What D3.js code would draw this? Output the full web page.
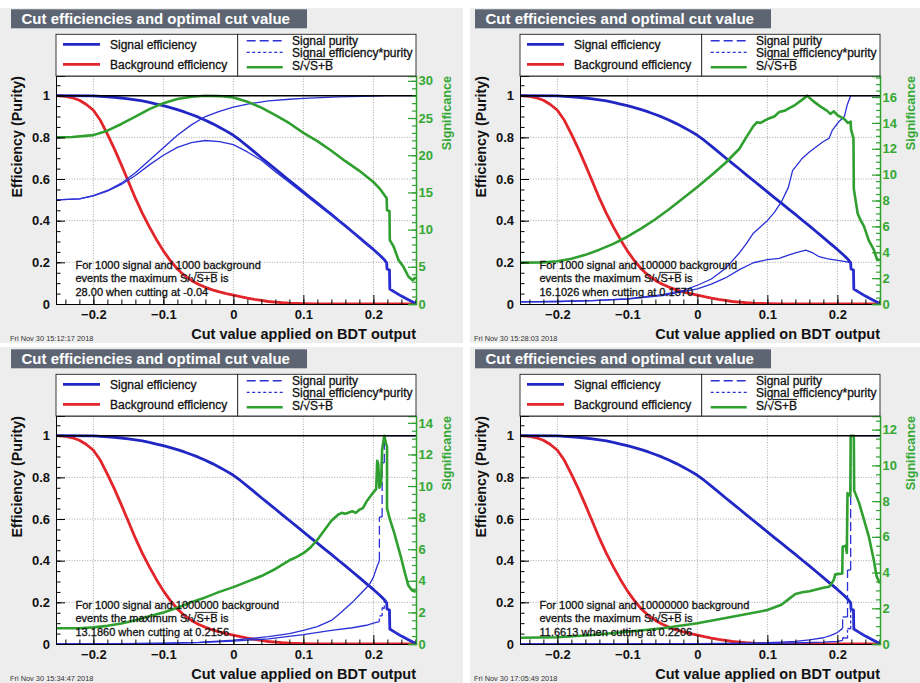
<!DOCTYPE html>
<html>
<head>
<meta charset="utf-8">
<script src="https://cdnjs.cloudflare.com/ajax/libs/d3/7.8.5/d3.min.js"></script>
<style>
  body { margin: 0; background: #ffffff; }
  svg { display: block; }
  text { font-family: "Liberation Sans", Arial, Helvetica, sans-serif; }
  .soft { stroke: #111111; stroke-width: 0.3px; paint-order: stroke; }
</style>
</head>
<body>
<svg id="chart" width="920" height="683"></svg>
<script>
// ---------------------------------------------------------------------------
// Cut efficiencies for a BDT classifier, four background sample sizes
// ---------------------------------------------------------------------------
const panelTitle = "Cut efficiencies and optimal cut value";
const xAxisTitle = "Cut value applied on BDT output";
const yAxisTitle = "Efficiency (Purity)";
const sigAxisTitle = "Significance";
const xTickValues = [-0.2, -0.1, 0, 0.1, 0.2];
const effTickValues = [0, 0.2, 0.4, 0.6, 0.8, 1];
const legendLeftLabels = ["Signal efficiency", "Background efficiency"];
const legendRightLabels = ["Signal purity", "Signal efficiency*purity"];

const signalCounts = [1000, 1000, 1000, 1000];
const backgroundCounts = [1000, 100000, 1000000, 10000000];
const maxSignificanceText = ["28.00", "16.1026", "13.1860", "11.6613"];
const optimalCutText = ["-0.04", "0.1570", "0.2156", "0.2206"];
const sigTickStep = [5, 2, 2, 2];
const sigMinorStep = [1, 0.5, 0.5, 0.5];
const timestamps = [
  "Fri Nov 30 15:12:17 2018",
  "Fri Nov 30 15:28:03 2018",
  "Fri Nov 30 15:34:47 2018",
  "Fri Nov 30 17:05:49 2018"
];

// [cut value, efficiency] -- same signal sample in every panel
const signalEff = [
  [-0.253,1.0],[-0.2,0.999],[-0.19,0.997],[-0.18,0.995],[-0.17,0.992],[-0.16,0.989],
  [-0.15,0.985],[-0.14,0.980],[-0.13,0.975],[-0.12,0.968],[-0.11,0.960],[-0.10,0.952],
  [-0.09,0.943],[-0.08,0.933],[-0.07,0.922],[-0.06,0.910],[-0.05,0.897],[-0.04,0.882],
  [-0.03,0.866],[-0.02,0.849],[-0.01,0.830],[0,0.810],[0.01,0.785],[0.02,0.758],
  [0.03,0.730],[0.04,0.702],[0.05,0.675],[0.06,0.648],[0.07,0.620],[0.08,0.593],
  [0.09,0.566],[0.10,0.538],[0.11,0.511],[0.12,0.484],[0.13,0.457],[0.14,0.430],
  [0.15,0.402],[0.16,0.375],[0.17,0.347],[0.18,0.319],[0.19,0.290],[0.20,0.262],
  [0.21,0.232],[0.215,0.215],[0.219,0.198],[0.2195,0.168],[0.223,0.163],[0.2235,0.072],
  [0.23,0.058],[0.24,0.038],[0.25,0.02],[0.2605,0.003]
];

const backgroundEff = [
  [-0.253,1.0],[-0.24,0.997],[-0.23,0.99],[-0.22,0.978],[-0.21,0.958],[-0.20,0.93],
  [-0.19,0.882],[-0.18,0.815],[-0.17,0.745],[-0.16,0.668],[-0.15,0.588],[-0.14,0.508],
  [-0.13,0.435],[-0.12,0.37],[-0.11,0.31],[-0.10,0.255],[-0.09,0.208],[-0.08,0.168],
  [-0.07,0.137],[-0.06,0.113],[-0.05,0.095],[-0.04,0.08],[-0.03,0.068],[-0.02,0.058],
  [-0.01,0.05],[0,0.043],[0.01,0.035],[0.02,0.028],[0.03,0.022],[0.04,0.017],
  [0.05,0.012],[0.06,0.009],[0.07,0.006],[0.08,0.004],[0.09,0.003],[0.10,0.002],
  [0.12,0.001],[0.14,0.0005],[0.2605,0]
];

// signal purity per background size
const purityB1k = [
  [-0.253,0.5],[-0.22,0.505],[-0.2,0.52],[-0.18,0.545],[-0.16,0.58],[-0.14,0.63],
  [-0.12,0.69],[-0.10,0.75],[-0.08,0.81],[-0.06,0.86],[-0.04,0.9],[-0.02,0.925],
  [0,0.945],[0.02,0.96],[0.05,0.975],[0.08,0.983],[0.10,0.987],[0.15,0.994],
  [0.20,0.998],[0.22,1.0],[0.2605,1.0]
];
const purityB100k = [
  [-0.253,0.01],[-0.2,0.012],[-0.15,0.016],[-0.1,0.025],[-0.05,0.045],[-0.02,0.065],
  [0,0.09],[0.02,0.12],[0.04,0.17],[0.06,0.245],[0.07,0.29],[0.08,0.34],[0.09,0.37],
  [0.10,0.40],[0.11,0.44],[0.12,0.49],[0.13,0.56],[0.136,0.64],[0.15,0.70],[0.16,0.73],
  [0.17,0.755],[0.18,0.78],[0.188,0.795],[0.193,0.835],[0.202,0.875],[0.21,0.90],
  [0.214,0.955],[0.219,1.0],[0.2605,1.0]
];
const purityB1M = [
  [-0.253,0.001],[-0.2,0.0012],[-0.15,0.0018],[-0.1,0.0035],[-0.05,0.008],[0,0.018],
  [0.05,0.035],[0.08,0.05],[0.10,0.065],[0.12,0.083],[0.14,0.113],[0.15,0.14],
  [0.16,0.17],[0.17,0.2],[0.18,0.235],[0.19,0.27],[0.195,0.29],[0.2,0.32],[0.205,0.37],
  [0.2086,0.40],[0.2086,0.61],[0.2125,0.61],[0.2125,0.87],[0.2156,0.87],[0.2156,1.0],
  [0.2605,1.0]
];
const purityB10M = [
  [-0.253,0.0001],[-0.1,0.0004],[0,0.002],[0.05,0.003],[0.1,0.006],[0.12,0.009],
  [0.14,0.013],[0.16,0.02],[0.18,0.03],[0.19,0.04],[0.2,0.055],[0.2075,0.075],
  [0.2075,0.13],[0.2145,0.13],[0.2145,0.355],[0.219,0.355],[0.219,1.0],[0.2605,1.0]
];

// signal efficiency * purity per background size
const effPurityB1k = [
  [-0.253,0.5],[-0.22,0.505],[-0.2,0.519],[-0.18,0.542],[-0.16,0.574],[-0.14,0.617],
  [-0.12,0.668],[-0.10,0.714],[-0.08,0.752],[-0.06,0.775],[-0.04,0.785],[-0.02,0.78],
  [0,0.765],[0.02,0.73],[0.04,0.69],[0.06,0.635],[0.08,0.583],[0.10,0.531],[0.12,0.478],
  [0.14,0.426],[0.16,0.372],[0.18,0.318],[0.20,0.261],[0.21,0.232],[0.215,0.215],
  [0.219,0.198],[0.2195,0.168],[0.223,0.163],[0.2235,0.072],[0.23,0.058],[0.24,0.038],
  [0.25,0.02],[0.2605,0.003]
];
const effPurityB100k = [
  [-0.253,0.01],[-0.2,0.012],[-0.15,0.016],[-0.1,0.024],[-0.05,0.04],[0,0.073],
  [0.02,0.095],[0.04,0.125],[0.06,0.165],[0.08,0.198],[0.10,0.213],[0.117,0.219],
  [0.13,0.235],[0.14,0.245],[0.155,0.259],[0.165,0.245],[0.174,0.227],[0.185,0.218],
  [0.198,0.211],[0.21,0.205],[0.219,0.198],[0.2195,0.168],[0.223,0.163],[0.2235,0.072],
  [0.23,0.058],[0.24,0.038],[0.25,0.02],[0.2605,0.003]
];
const effPurityB1M = [
  [-0.253,0.001],[-0.1,0.003],[-0.05,0.007],[0,0.014],[0.05,0.025],[0.10,0.045],
  [0.14,0.065],[0.17,0.078],[0.19,0.09],[0.2,0.1],[0.2086,0.108],[0.2086,0.135],
  [0.2125,0.135],[0.2125,0.175],[0.2156,0.17],[0.2156,0.21],[0.219,0.198],
  [0.2195,0.168],[0.223,0.163],[0.2235,0.072],[0.23,0.058],[0.24,0.038],[0.25,0.02],
  [0.2605,0.003]
];
const effPurityB10M = [
  [-0.253,0.0001],[0,0.0016],[0.1,0.003],[0.15,0.006],[0.18,0.009],[0.2,0.013],
  [0.2075,0.017],[0.2075,0.03],[0.2145,0.028],[0.2145,0.075],[0.219,0.072],
  [0.219,0.198],[0.2195,0.168],[0.223,0.163],[0.2235,0.072],[0.23,0.058],[0.24,0.038],
  [0.25,0.02],[0.2605,0.003]
];

// S/sqrt(S+B) per background size
const significanceB1k = [
  [-0.253,22.4],[-0.23,22.45],[-0.2,22.7],[-0.18,23.3],[-0.16,24.2],[-0.14,25.2],
  [-0.12,26.2],[-0.10,27.0],[-0.08,27.55],[-0.06,27.85],[-0.04,28.0],[-0.02,27.95],
  [0,27.75],[0.02,27.2],[0.04,26.4],[0.06,25.4],[0.08,24.3],[0.10,23.0],[0.12,21.9],
  [0.14,20.6],[0.16,19.2],[0.18,17.9],[0.20,16.4],[0.21,15.4],[0.219,14.2],
  [0.2195,12.6],[0.223,12.5],[0.2235,8.6],[0.229,7.7],[0.236,5.9],[0.243,5.0],
  [0.25,3.7],[0.256,3.2],[0.2605,3.6]
];
const significanceB100k = [
  [-0.253,3.2],[-0.22,3.22],[-0.2,3.3],[-0.18,3.5],[-0.16,3.8],[-0.14,4.2],[-0.12,4.65],
  [-0.10,5.2],[-0.08,5.85],[-0.06,6.55],[-0.04,7.35],[-0.02,8.2],[0,9.05],[0.02,9.95],
  [0.04,10.9],[0.06,12.0],[0.07,12.9],[0.08,13.75],[0.085,14.05],[0.09,14.0],
  [0.10,14.3],[0.11,14.5],[0.117,14.85],[0.125,14.95],[0.13,15.1],[0.14,15.4],
  [0.15,15.8],[0.157,16.1026],[0.165,15.7],[0.175,15.3],[0.185,14.95],[0.19,14.7],
  [0.195,14.9],[0.2,14.6],[0.205,14.45],[0.21,14.3],[0.215,14.0],[0.219,14.1],
  [0.2195,13.5],[0.223,12.8],[0.2235,8.9],[0.229,7.0],[0.233,6.5],[0.238,6.0],
  [0.245,4.9],[0.252,4.2],[0.257,3.4],[0.2605,3.4]
];
const significanceB1M = [
  [-0.253,1.0],[-0.22,1.0],[-0.2,1.05],[-0.18,1.15],[-0.16,1.3],[-0.14,1.5],[-0.12,1.75],
  [-0.10,2.0],[-0.08,2.3],[-0.06,2.65],[-0.04,2.95],[-0.02,3.3],[0,3.6],[0.02,3.95],
  [0.04,4.3],[0.06,4.75],[0.08,5.3],[0.09,5.5],[0.10,5.75],[0.11,6.1],[0.12,6.6],
  [0.13,7.2],[0.14,7.8],[0.15,8.2],[0.155,8.3],[0.16,8.25],[0.17,8.4],[0.175,8.3],
  [0.18,8.5],[0.185,8.6],[0.19,9.0],[0.195,9.3],[0.2,9.6],[0.204,9.8],[0.2055,11.6],
  [0.207,11.4],[0.2086,9.9],[0.211,10.1],[0.2125,12.3],[0.2156,13.186],[0.218,12.7],
  [0.2195,12.5],[0.2195,8.6],[0.2235,7.9],[0.23,7.0],[0.235,6.2],[0.24,5.4],
  [0.245,4.5],[0.25,3.7],[0.255,3.4],[0.2605,3.3]
];
const significanceB10M = [
  [-0.253,0.35],[-0.2,0.38],[-0.15,0.5],[-0.1,0.69],[-0.05,0.88],[0,1.16],[0.05,1.53],
  [0.10,1.9],[0.12,2.2],[0.13,2.5],[0.14,2.8],[0.15,2.9],[0.16,2.95],[0.17,3.05],
  [0.18,3.15],[0.188,3.2],[0.192,3.4],[0.195,3.6],[0.197,3.9],[0.207,3.95],
  [0.2075,5.45],[0.212,5.5],[0.2135,5.1],[0.2145,8.45],[0.2185,8.3],[0.219,11.6613],
  [0.2235,11.6613],[0.224,8.6],[0.231,7.9],[0.238,6.96],[0.245,6.0],[0.252,4.7],
  [0.256,3.8],[0.2605,3.4]
];

const purityByPanel = [purityB1k, purityB100k, purityB1M, purityB10M];
const effPurityByPanel = [effPurityB1k, effPurityB100k, effPurityB1M, effPurityB10M];
const significanceByPanel = [significanceB1k, significanceB100k, significanceB1M, significanceB10M];

// ---------------------------------------------------------------------------
// layout and style
// ---------------------------------------------------------------------------
const colX = [0, 464];
const rowY = [0, 340];
const canvasCols = [[0, 463], [470, 920]];
const canvasRows = [[8, 343], [347, 683]];
const frame = { left: 56, right: 416, top: 76, bottom: 304 };
const xDomain = [-0.2534, 0.2609];
const yTop = 1.0946;

const C = {
  canvas: "#ededed",
  titleBox: "#5d6573",
  blue: "#2127c4",
  blueThin: "#2b31d6",
  red: "#e2252a",
  green: "#2f9f2f",
  greenText: "#33a833",
  grid: "#8e8e8e",
  ink: "#111111"
};

const svg = d3.select("#chart");

// draws "prefix S/√S+B suffix" with an overline across S+B
function radicalText(g, x, y, prefix, suffix, size) {
  const t = g.append("text")
    .attr("class", "soft")
    .attr("x", x).attr("y", y)
    .attr("font-size", size)
    .attr("fill", C.ink)
    .text(prefix + "S/\u221AS+B" + suffix);
  const node = t.node();
  const iRad = prefix.length + 2;
  const x0 = x + node.getSubStringLength(0, iRad) + node.getSubStringLength(iRad, 1) * 0.78;
  const x1 = x + node.getSubStringLength(0, iRad + 4);
  const yl = y - size * 0.9;
  g.append("line").attr("x1", x0).attr("x2", x1).attr("y1", yl).attr("y2", yl)
    .attr("stroke", C.ink).attr("stroke-width", size > 11.5 ? 1 : 0.9);
  return t;
}

// draws a curve where sloped parts are continuous and vertical jumps carry the dash pattern
function drawPatterned(g, pts, xs, ys, color, width, dash) {
  const line = d3.line().x(d => xs(d[0])).y(d => ys(d[1]));
  const runs = [], jumps = [];
  let run = [pts[0]];
  for (let i = 1; i < pts.length; i++) {
    const a = pts[i - 1], b = pts[i];
    if (a[0] === b[0]) {
      if (run.length > 1) runs.push(run);
      jumps.push([a, b]);
      run = [b];
    } else {
      run.push(b);
    }
  }
  if (run.length > 1) runs.push(run);
  runs.forEach(r => g.append("path").attr("d", line(r)).attr("fill", "none")
    .attr("stroke", color).attr("stroke-width", width).attr("stroke-linejoin", "round"));
  jumps.forEach(j => g.append("path").attr("d", line(j)).attr("fill", "none")
    .attr("stroke", color).attr("stroke-width", width).attr("stroke-dasharray", dash));
}

function styleAxisText(sel, size, color) {
  sel.selectAll("text")
    .attr("font-family", "'Liberation Sans', Arial, sans-serif")
    .attr("font-size", size).attr("font-weight", "bold").attr("fill", color);
}

for (let i = 0; i < 4; i++) {
  const col = i % 2, row = Math.floor(i / 2);
  const maxSig = parseFloat(maxSignificanceText[i]);

  // canvas background
  svg.append("rect")
    .attr("x", canvasCols[col][0]).attr("y", canvasRows[row][0])
    .attr("width", canvasCols[col][1] - canvasCols[col][0])
    .attr("height", canvasRows[row][1] - canvasRows[row][0])
    .attr("fill", C.canvas);

  const g = svg.append("g").attr("transform", `translate(${colX[col]},${rowY[row]})`);

  const x = d3.scaleLinear().domain(xDomain).range([frame.left, frame.right]);
  const y = d3.scaleLinear().domain([0, yTop]).range([frame.bottom, frame.top]);
  const ySig = d3.scaleLinear().domain([0, maxSig * yTop]).range([frame.bottom, frame.top]);

  // title box
  g.append("rect").attr("x", 11).attr("y", 9.3).attr("width", 296).attr("height", 19)
    .attr("fill", C.titleBox);
  g.append("text").attr("x", 21.5).attr("y", 24.2)
    .attr("font-size", 15).attr("font-weight", "bold").attr("fill", "#ffffff")
    .text(panelTitle);

  // plot area
  g.append("rect").attr("x", frame.left).attr("y", frame.top)
    .attr("width", frame.right - frame.left).attr("height", frame.bottom - frame.top)
    .attr("fill", "#ffffff");

  // grid
  const gridG = g.append("g").attr("stroke", C.grid).attr("stroke-width", 0.8)
    .attr("stroke-dasharray", "1,1.6");
  xTickValues.forEach(v => gridG.append("line")
    .attr("x1", x(v)).attr("x2", x(v)).attr("y1", frame.top).attr("y2", frame.bottom));
  effTickValues.filter(v => v > 0 && v < 1).forEach(v => gridG.append("line")
    .attr("x1", frame.left).attr("x2", frame.right).attr("y1", y(v)).attr("y2", y(v)));

  // curves
  const clip = "clip" + i;
  g.append("clipPath").attr("id", clip).append("rect")
    .attr("x", frame.left).attr("y", frame.top - 2)
    .attr("width", frame.right - frame.left).attr("height", frame.bottom - frame.top + 2);
  const cg = g.append("g").attr("clip-path", `url(#${clip})`);
  const line = d3.line().x(d => x(d[0])).y(d => y(d[1]));

  cg.append("path").attr("d", line(backgroundEff)).attr("fill", "none")
    .attr("stroke", C.red).attr("stroke-width", 2.8).attr("stroke-linejoin", "round");
  cg.append("path").attr("d", line(signalEff)).attr("fill", "none")
    .attr("stroke", C.blue).attr("stroke-width", 2.8).attr("stroke-linejoin", "round");
  drawPatterned(cg, purityByPanel[i], x, y, C.blueThin, 1.3, "9,4");
  drawPatterned(cg, effPurityByPanel[i], x, y, C.blueThin, 1.3, "3,2.5");
  const sigLine = d3.line().x(d => x(d[0])).y(d => ySig(d[1]));
  cg.append("path").attr("d", sigLine(significanceByPanel[i])).attr("fill", "none")
    .attr("stroke", C.green).attr("stroke-width", 2.6).attr("stroke-linejoin", "round");

  // unit line
  g.append("line").attr("x1", frame.left).attr("x2", frame.right)
    .attr("y1", y(1)).attr("y2", y(1)).attr("stroke", "#000").attr("stroke-width", 1.4);

  // frame top edge
  g.append("line").attr("x1", frame.left).attr("x2", frame.right)
    .attr("y1", frame.top).attr("y2", frame.top).attr("stroke", "#000").attr("stroke-width", 1);

  // left axis
  const yMinor = d3.range(0, 1.051, 0.05);
  g.append("g").attr("transform", `translate(${frame.left},0)`)
    .call(d3.axisLeft(y).tickValues(yMinor).tickSize(-4.5).tickFormat(""))
    .call(s => s.select(".domain").remove())
    .selectAll("line").attr("stroke", "#000");
  const ya = g.append("g").attr("transform", `translate(${frame.left},0)`)
    .call(d3.axisLeft(y).tickValues(effTickValues).tickSize(-9).tickPadding(6)
      .tickFormat(d3.format("~g")));
  ya.select(".domain").attr("stroke", "#000");
  ya.selectAll("line").attr("stroke", "#000");
  styleAxisText(ya, 13, C.ink);

  // bottom axis
  const xMinor = d3.range(-0.24, 0.261, 0.02);
  g.append("g").attr("transform", `translate(0,${frame.bottom})`)
    .call(d3.axisBottom(x).tickValues(xMinor).tickSize(-4.5).tickFormat(""))
    .call(s => s.select(".domain").remove())
    .selectAll("line").attr("stroke", "#000");
  const xa = g.append("g").attr("transform", `translate(0,${frame.bottom})`)
    .call(d3.axisBottom(x).tickValues(xTickValues).tickSize(-9).tickPadding(6)
      .tickFormat(d3.format("~g")));
  xa.select(".domain").attr("stroke", "#000");
  xa.selectAll("line").attr("stroke", "#000");
  styleAxisText(xa, 13, C.ink);

  // right (significance) axis
  const sigMax = maxSig * yTop;
  const sigMajor = d3.range(0, sigMax + 1e-9, sigTickStep[i]);
  const sigMinor = d3.range(0, sigMax + 1e-9, sigMinorStep[i]);
  g.append("g").attr("transform", `translate(${frame.right},0)`)
    .call(d3.axisRight(ySig).tickValues(sigMinor).tickSize(-4).tickFormat(""))
    .call(s => s.select(".domain").remove())
    .selectAll("line").attr("stroke", C.green).attr("stroke-width", 1.2);
  const sa = g.append("g").attr("transform", `translate(${frame.right},0)`)
    .call(d3.axisRight(ySig).tickValues(sigMajor).tickSize(-8).tickPadding(2.5)
      .tickFormat(d3.format("~g")));
  sa.select(".domain").attr("stroke", C.green).attr("stroke-width", 1.5);
  sa.selectAll("line").attr("stroke", C.green).attr("stroke-width", 1.2);
  styleAxisText(sa, 13, C.greenText);

  // axis titles
  g.append("text")
    .attr("transform", `translate(21.7,${frame.top}) rotate(-90)`)
    .attr("text-anchor", "end").attr("font-size", 14.3).attr("font-weight", "bold")
    .attr("fill", C.ink).text(yAxisTitle);
  g.append("text")
    .attr("transform", `translate(450.5,${frame.top}) rotate(-90)`)
    .attr("text-anchor", "end").attr("font-size", 12.6).attr("font-weight", "bold")
    .attr("fill", C.greenText).text(sigAxisTitle);
  g.append("text").attr("x", frame.right).attr("y", 339)
    .attr("text-anchor", "end").attr("font-size", 14.5).attr("font-weight", "bold")
    .attr("fill", C.ink).text(xAxisTitle);

  // legends
  const legTop = 34.3, legMid = 237.7;
  g.append("rect").attr("x", frame.left).attr("y", legTop)
    .attr("width", legMid - frame.left).attr("height", frame.top - legTop)
    .attr("fill", "#ffffff").attr("stroke", "#222").attr("stroke-width", 0.9);
  g.append("rect").attr("x", legMid).attr("y", legTop)
    .attr("width", frame.right - legMid).attr("height", frame.top - legTop)
    .attr("fill", "#ffffff").attr("stroke", "#222").attr("stroke-width", 0.9);

  const legL = [
    { y: 44.4, color: C.blue, w: 2.6 },
    { y: 64.4, color: C.red, w: 2.6 }
  ];
  legL.forEach((e, k) => {
    g.append("line").attr("x1", 63).attr("x2", 100).attr("y1", e.y).attr("y2", e.y)
      .attr("stroke", e.color).attr("stroke-width", e.w);
    g.append("text").attr("class", "soft").attr("x", 110).attr("y", e.y + 4.3)
      .attr("font-size", 12).attr("fill", C.ink).text(legendLeftLabels[k]);
  });
  const legR = [
    { y: 40.7, color: C.blueThin, dash: "9,4", w: 1.4 },
    { y: 52.4, color: C.blueThin, dash: "3,2.5", w: 1.4 },
    { y: 67.2, color: C.green, dash: null, w: 2.4 }
  ];
  legR.forEach(e => {
    g.append("line").attr("x1", 246.7).attr("x2", 282.7).attr("y1", e.y).attr("y2", e.y)
      .attr("stroke", e.color).attr("stroke-width", e.w)
      .attr("stroke-dasharray", e.dash);
  });
  g.append("text").attr("class", "soft").attr("x", 292).attr("y", 44.6).attr("font-size", 12)
    .attr("fill", C.ink).text(legendRightLabels[0]);
  g.append("text").attr("class", "soft").attr("x", 292).attr("y", 57).attr("font-size", 12)
    .attr("fill", C.ink).text(legendRightLabels[1]);
  radicalText(g, 292, 70.2, "", "", 12);

  // optimum note
  const ax = frame.left + 19.5;
  g.append("text").attr("class", "soft").attr("x", ax).attr("y", 269)
    .attr("font-size", 11).attr("fill", C.ink)
    .text(`For ${signalCounts[i]} signal and ${backgroundCounts[i]} background`);
  radicalText(g, ax, 282.3, "events the maximum ", " is", 11);
  g.append("text").attr("class", "soft").attr("x", ax).attr("y", 295.5)
    .attr("font-size", 11).attr("fill", C.ink)
    .text(`${maxSignificanceText[i]} when cutting at ${optimalCutText[i]}`);

  // time stamp
  g.append("text").attr("x", 10).attr("y", 340.5).attr("font-size", 7.4)
    .attr("fill", "#333").text(timestamps[i]);
}
</script>
</body>
</html>
